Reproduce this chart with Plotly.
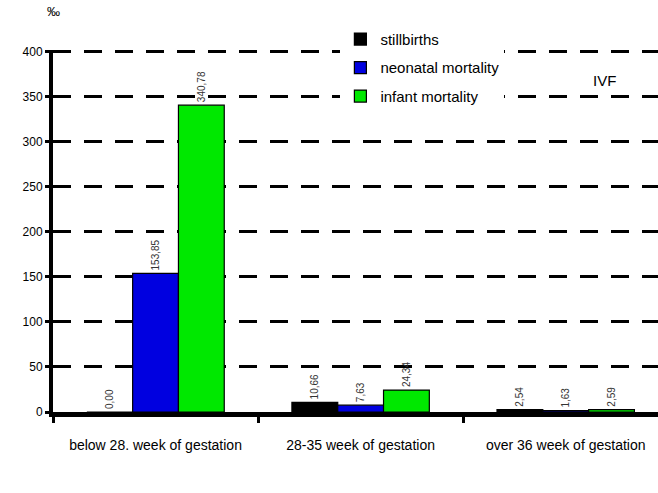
import plotly.graph_objects as go

# Mortality rates (per mille) by gestational age group, IVF births
categories = ["below 28. week of gestation", "28-35 week of gestation", "over 36 week of gestation"]
stillbirths = [0.00, 10.66, 2.54]
neonatal = [153.85, 7.63, 1.63]
infant = [340.78, 24.34, 2.59]
y_ticks = [0, 50, 100, 150, 200, 250, 300, 350, 400]

series = [
    ("stillbirths", stillbirths, "#000000"),
    ("neonatal mortality", neonatal, "#0000e0"),
    ("infant mortality", infant, "#00e800"),
]

fig = go.Figure()
for name, vals, color in series:
    fig.add_trace(go.Bar(
        name=name,
        x=categories,
        y=vals,
        marker=dict(color=color, line=dict(color="#000000", width=1.2)),
        texttemplate="%{y:.2f}",
        textposition="outside",
        textangle=-90,
        textfont=dict(family="Liberation Sans", size=10, color="#333333"),
        cliponaxis=False,
        legendgroup=name,
    ))

fig.update_layout(
    width=658,
    height=493,
    barmode="group",
    bargap=0.33,
    bargroupgap=0,
    separators=",.",
    plot_bgcolor="white",
    paper_bgcolor="white",
    margin=dict(l=53, r=0, t=50, b=81),
    font=dict(family="Liberation Sans", color="#000000"),
    legend=dict(
        x=0.475, y=1.075, xanchor="left", yanchor="top",
        bgcolor="white",
        font=dict(size=15, color="#000000"),
        tracegroupgap=6,
        itemwidth=30,
    ),
    showlegend=True,
)

fig.update_xaxes(
    range=[-0.5, 2.45],
    showline=True, linecolor="#000000", linewidth=5,
    ticks="outside", ticklen=6, tickwidth=3, tickcolor="#000000",
    tickson="boundaries",
    showgrid=False,
    ticklabelstandoff=16,
    tickfont=dict(size=14, color="#000000"),
)
fig.update_yaxes(
    range=[0, 402],
    tickvals=y_ticks,
    showline=True, linecolor="#000000", linewidth=4,
    ticks="outside", ticklen=4, tickwidth=3, tickcolor="#000000",
    showgrid=True, gridcolor="#000000", gridwidth=2.5, griddash="18px,13px",
    zeroline=False,
    tickfont=dict(size=12, color="#000000"),
)

fig.add_annotation(text="‰", xref="paper", yref="paper", x=0.0, y=1.08,
                   xanchor="center", yanchor="bottom", showarrow=False,
                   font=dict(size=13, color="#000000"))
fig.add_annotation(text="IVF", xref="paper", yref="paper", x=0.89, y=0.915,
                   xanchor="left", yanchor="middle", showarrow=False,
                   font=dict(size=15, color="#000000"))

fig.write_html("out.html")
